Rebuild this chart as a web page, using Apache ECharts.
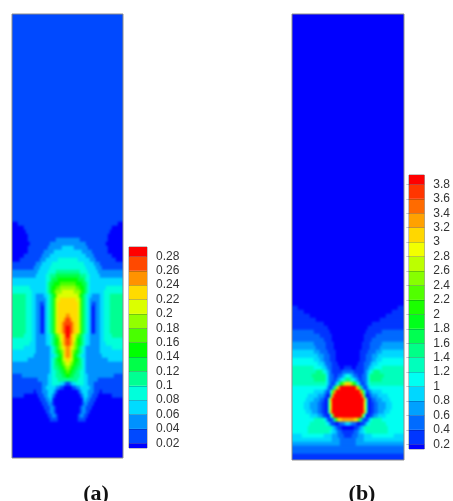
<!DOCTYPE html>
<html><head><meta charset="utf-8">
<style>html,body{margin:0;padding:0;background:#fff}#c{width:453px;height:501px}</style>
<script src="https://cdn.jsdelivr.net/npm/echarts@6/dist/echarts.min.js"></script>
</head><body><div id="c"></div>
<script>
// Tick labels of the two colour bars
const ticksA=[0.02,0.04,0.06,0.08,0.1,0.12,0.14,0.16,0.18,0.2,0.22,0.24,0.26,0.28];
const ticksB=[0.2,0.4,0.6,0.8,1,1.2,1.4,1.6,1.8,2,2.2,2.4,2.6,2.8,3,3.2,3.4,3.6,3.8];
const coloursA=['#0000ff','#0049ff','#0092ff','#00dbff','#00ffdb','#00ff92','#00ff49','#00ff00','#49ff00','#92ff00','#dbff00','#ffdb00','#ff9200','#ff4900','#ff0000'];
const coloursB=['#0000ff','#0036ff','#006bff','#00a1ff','#00d7ff','#00fff2','#00ffbc','#00ff87','#00ff51','#00ff1b','#1bff00','#51ff00','#87ff00','#bcff00','#f2ff00','#ffd700','#ffa100','#ff6b00','#ff3600','#ff0000'];
// Field rows, left half, top to bottom.
// Each row is value, end column, value, end column, ... (values x100 in panel a, x10 in panel b).
const aAbove=3, aBelow=1, aFirstRow=52;
const aRows=[
[1,3,3,28],[1,6,3,28],[1,7,3,28],[1,8,3,28],
[1,8,3,22,5,28],
[1,9,3,19,5,28],
[1,8,3,18,5,25,7,28],
[1,8,3,16,5,21,7,28],
[1,6,3,15,5,19,7,28],
[1,4,3,14,5,17,7,23,9,28],
[3,12,5,15,7,20,9,28],
[3,11,5,14,7,19,9,28],
[5,13,7,18,9,22,11,28],
[5,12,7,17,9,19,11,22,13,28],
[7,17,9,19,11,20,13,23,15,28],
[7,17,9,18,11,19,13,21,15,24,17,28],
[9,9,7,17,9,18,11,19,13,20,15,22,17,24,19,28],
[9,10,7,17,9,18,11,19,13,20,15,21,17,22,19,25,21,28],
[11,7,9,10,7,12,5,16,7,18,9,19,11,20,13,21,15,22,19,23,21,28],
[11,7,9,10,7,12,5,17,7,18,9,19,11,20,13,21,17,22,21,24,23,28],
[11,7,9,10,7,12,5,14,3,16,5,17,7,18,9,19,11,20,13,21,17,22,21,23,23,28],
[11,7,9,10,7,12,5,14,3,15,1,16,5,17,7,18,9,19,11,20,13,21,17,22,21,23,23,28],
[11,7,9,10,7,12,5,14,3,15,1,16,5,17,7,18,9,19,11,20,13,21,17,22,21,23,23,28],
[11,7,9,10,7,12,5,14,3,15,1,16,5,17,7,18,9,19,11,20,13,21,17,22,21,23,23,27,25,28],
[11,7,9,10,7,12,5,14,3,15,1,16,5,17,7,18,9,19,11,20,13,21,17,22,21,23,23,26,25,27,27,28],
[11,7,9,10,7,12,5,14,3,15,1,16,5,17,7,18,9,19,11,20,13,21,17,22,21,23,23,25,25,26,27,28],
[11,7,9,10,7,12,5,14,3,15,1,16,5,17,7,18,9,19,11,20,13,21,17,22,21,23,23,25,25,26,27,27,29,28],
[11,7,9,10,7,12,5,14,3,15,1,16,5,17,7,18,9,19,11,20,13,21,17,22,21,23,23,25,25,26,27,27,29,28],
[11,6,9,10,7,12,5,17,7,19,9,20,11,21,13,22,17,23,19,24,21,25,23,26,25,27,29,28],
[9,10,7,12,5,17,7,19,9,20,11,21,13,22,15,23,17,24,21,25,23,26,25,27,27,28],
[9,9,7,12,5,17,7,19,9,20,11,21,13,22,15,23,17,24,19,25,23,26,25,27,27,28],
[9,6,7,12,5,19,7,20,9,21,11,22,13,23,17,24,19,25,21,26,23,27,25,28],
[7,12,5,19,7,20,9,21,11,22,13,23,15,24,17,25,19,26,23,27,25,28],
[7,11,5,19,7,21,9,22,11,23,13,24,15,25,19,26,23,27,25,28],
[7,8,5,19,7,20,9,21,11,22,13,23,15,25,19,26,21,27,23,28],
[5,19,7,20,9,21,11,22,13,24,15,25,17,26,19,27,21,28],
[5,19,7,20,9,21,11,23,13,25,15,26,17,27,19,28],
[5,19,7,20,9,22,11,24,13,26,15,27,17,28],
[3,5,5,18,7,20,9,22,11,25,13,27,15,28],
[3,13,5,18,7,20,9,23,11,28],
[3,15,5,18,7,20,9,24,7,26,5,27,3,28],
[3,15,5,17,7,22,5,24,3,26,1,28],
[3,11,1,12,3,15,5,18,7,21,5,22,3,23,1,28],
[3,6,1,13,3,16,5,18,7,20,5,21,3,22,1,28],
[1,14,3,17,5,19,7,20,3,21,1,28],
[1,15,3,18,5,20,3,21,1,28],
[1,16,3,19,5,21,3,22,1,28],
[1,17,3,19,5,21,3,22,1,28],
[1,18,3,20,5,22,3,23,1,28],
[1,19,3,23,1,28]
];
const bAbove=1, bBelow=3, bFirstRow=72;
const bRows=[
[1,28],[3,3,1,28],[3,6,1,28],[3,9,1,28],[3,12,1,28],[3,16,1,28],[3,18,1,28],
[5,11,3,19,1,28],
[5,14,3,20,1,28],
[5,16,3,20,1,28],
[7,11,5,17,3,21,1,28],
[7,12,5,17,3,21,1,28],
[9,11,7,14,5,18,3,22,1,28],
[9,13,7,16,5,19,3,22,1,28],
[11,11,9,14,7,16,5,19,3,22,1,28],
[11,13,9,16,7,17,5,20,3,23,1,28],
[13,11,11,15,9,17,7,18,5,20,3,24,1,26,3,28],
[13,12,15,15,13,16,11,17,9,18,7,19,5,20,3,25,5,28],
[13,10,15,17,11,18,7,19,5,21,3,23,5,25,7,26,9,27,11,28],
[13,11,15,17,11,18,7,19,5,21,3,22,5,23,7,24,9,25,11,26,13,27,15,28],
[13,17,11,18,7,19,5,20,3,21,5,22,9,23,13,24,19,25,23,26,27,27,31,28],
[11,17,9,18,5,19,3,20,7,21,15,22,25,23,33,24,39,28],
[11,11,9,16,7,17,5,18,3,19,11,20,23,21,33,22,39,28],
[11,8,9,13,7,16,5,17,3,18,1,19,15,20,33,21,39,28],
[11,7,9,11,7,14,5,16,3,17,1,18,13,19,31,20,39,28],
[11,6,9,9,7,13,5,15,3,17,1,18,13,19,29,20,39,28],
[11,6,9,9,7,13,5,15,3,17,1,18,13,19,29,20,39,28],
[11,7,9,10,7,13,5,15,3,17,1,18,13,19,31,20,39,28],
[11,9,9,13,7,15,5,16,3,18,1,19,11,20,25,21,39,28],
[11,11,13,16,11,17,7,18,3,20,5,21,15,22,23,23,31,25,33,28],
[11,9,13,17,11,18,9,19,5,20,3,22,1,23,3,24,5,26,7,27,9,28],
[11,8,13,20,9,21,7,22,5,23,3,25,1,28],
[11,8,13,19,11,20,9,22,7,23,5,25,3,28],
[9,5,11,16,9,20,7,23,5,26,3,28],
[9,20,7,24,5,28],
[7,24,5,28],
[5,28],
[5,28],
[3,28]
];
const nRows=111, halfCols=28, pad=2;

function expand(runs){
  const half=[];
  for(let i=0;i<runs.length;i+=2){while(half.length<runs[i+1])half.push(runs[i]);}
  return half;
}
// Two extra columns and one extra row on each side repeat the edge values, so softening does not fade at the frame.
function cells(rows,first,above,below,unit){
  const out=[];
  for(let r=0;r<nRows;r++){
    const spec=rows[r-first];
    const half=spec?expand(spec):new Array(halfCols).fill(r<first?above:below);
    const row=[...half,...[...half].reverse()];
    const wide=[row[0],row[0],...row,row[row.length-1],row[row.length-1]];
    wide.forEach((v,c)=>{
      out.push([c,r+1,v*unit]);
      if(r===0)out.push([c,0,v*unit]);
      if(r===nRows-1)out.push([c,r+2,v*unit]);
    });
  }
  return out;
}
function pieces(ticks,cols,maxV){
  return cols.map((color,i)=>({min:i?ticks[i-1]:0,max:i<ticks.length?ticks[i]:maxV,color}));
}
function idx(n){return Array.from({length:n},(_,i)=>i);}
function barSeries(ticks,cols,axis,top){
  return cols.map((color,i)=>({type:'bar',zlevel:1,stack:'s'+axis,xAxisIndex:axis,yAxisIndex:axis,barWidth:'100%',silent:true,
    itemStyle:{color},data:[i===0?ticks[0]:(i<ticks.length?ticks[i]-ticks[i-1]:top-ticks[i-1])]}));
}
const border={show:true,zlevel:1,borderColor:'#8c8c8c',borderWidth:1,backgroundColor:'transparent'};
const heatX=(g)=>({type:'category',gridIndex:g,data:idx(2*halfCols+2*pad),show:false});
const heatY=(g)=>({type:'category',gridIndex:g,data:idx(nRows+2),inverse:true,show:false});
const barX=(g)=>({type:'category',gridIndex:g,data:['c'],show:false});
const barY=(g,ticks,min,max)=>({type:'value',gridIndex:g,position:'right',min,max,zlevel:1,z:5,
  splitLine:{show:false},axisLine:{show:false},
  axisTick:{show:true,inside:true,length:18,customValues:ticks,lineStyle:{color:'rgba(0,0,50,0.22)',width:1}},
  axisLabel:{show:true,customValues:ticks,margin:9,fontFamily:'Liberation Sans',fontSize:12,color:'#333',formatter:v=>String(v)}});
const ttl=(text,left)=>({text,left,top:483,padding:0,zlevel:1,textAlign:'center',textStyle:{fontFamily:'Liberation Serif',fontWeight:'bold',fontSize:22,color:'#111'}});

const chart=echarts.init(document.getElementById('c'),null,{renderer:'canvas'});
chart.setOption({
  animation:false,
  title:[ttl('(a)',96),ttl('(b)',362)],
  grid:[
    {left:8,top:10,width:120,height:452,show:false},
    {left:288,top:10,width:120,height:452,show:false},
    {left:129,top:247,width:18,height:201,...border},
    {left:409,top:175,width:18,height:274,...border},
    {left:12,top:14,width:111,height:444,...border},
    {left:292,top:14,width:112,height:446,...border}
  ],
  xAxis:[heatX(0),heatX(1),barX(2),barX(3),barX(4),barX(5)],
  yAxis:[heatY(0),heatY(1),barY(2,ticksA,0.01345,0.2931),barY(3,ticksB,0.1347,3.93),
    {type:'value',gridIndex:4,show:false},{type:'value',gridIndex:5,show:false}],
  visualMap:[
    {type:'piecewise',show:false,seriesIndex:0,dimension:2,pieces:pieces(ticksA,coloursA,0.3)},
    {type:'piecewise',show:false,seriesIndex:1,dimension:2,pieces:pieces(ticksB,coloursB,4)}
  ],
  series:[
    {type:'heatmap',zlevel:0,xAxisIndex:0,yAxisIndex:0,progressive:0,silent:true,data:cells(aRows,aFirstRow,aAbove,aBelow,0.01)},
    {type:'heatmap',zlevel:0,xAxisIndex:1,yAxisIndex:1,progressive:0,silent:true,data:cells(bRows,bFirstRow,bAbove,bBelow,0.1)},
    ...barSeries(ticksA,coloursA,2,0.3),
    ...barSeries(ticksB,coloursB,3,4)
  ]
});
// Soften the contour layer only and crop it to the two panel frames.
const layer=document.querySelector('#c canvas');
layer.style.filter='blur(1px)';
layer.style.clipPath="path('M12 14H123V458H12ZM292 14H404V460H292Z')";
</script></body></html>
